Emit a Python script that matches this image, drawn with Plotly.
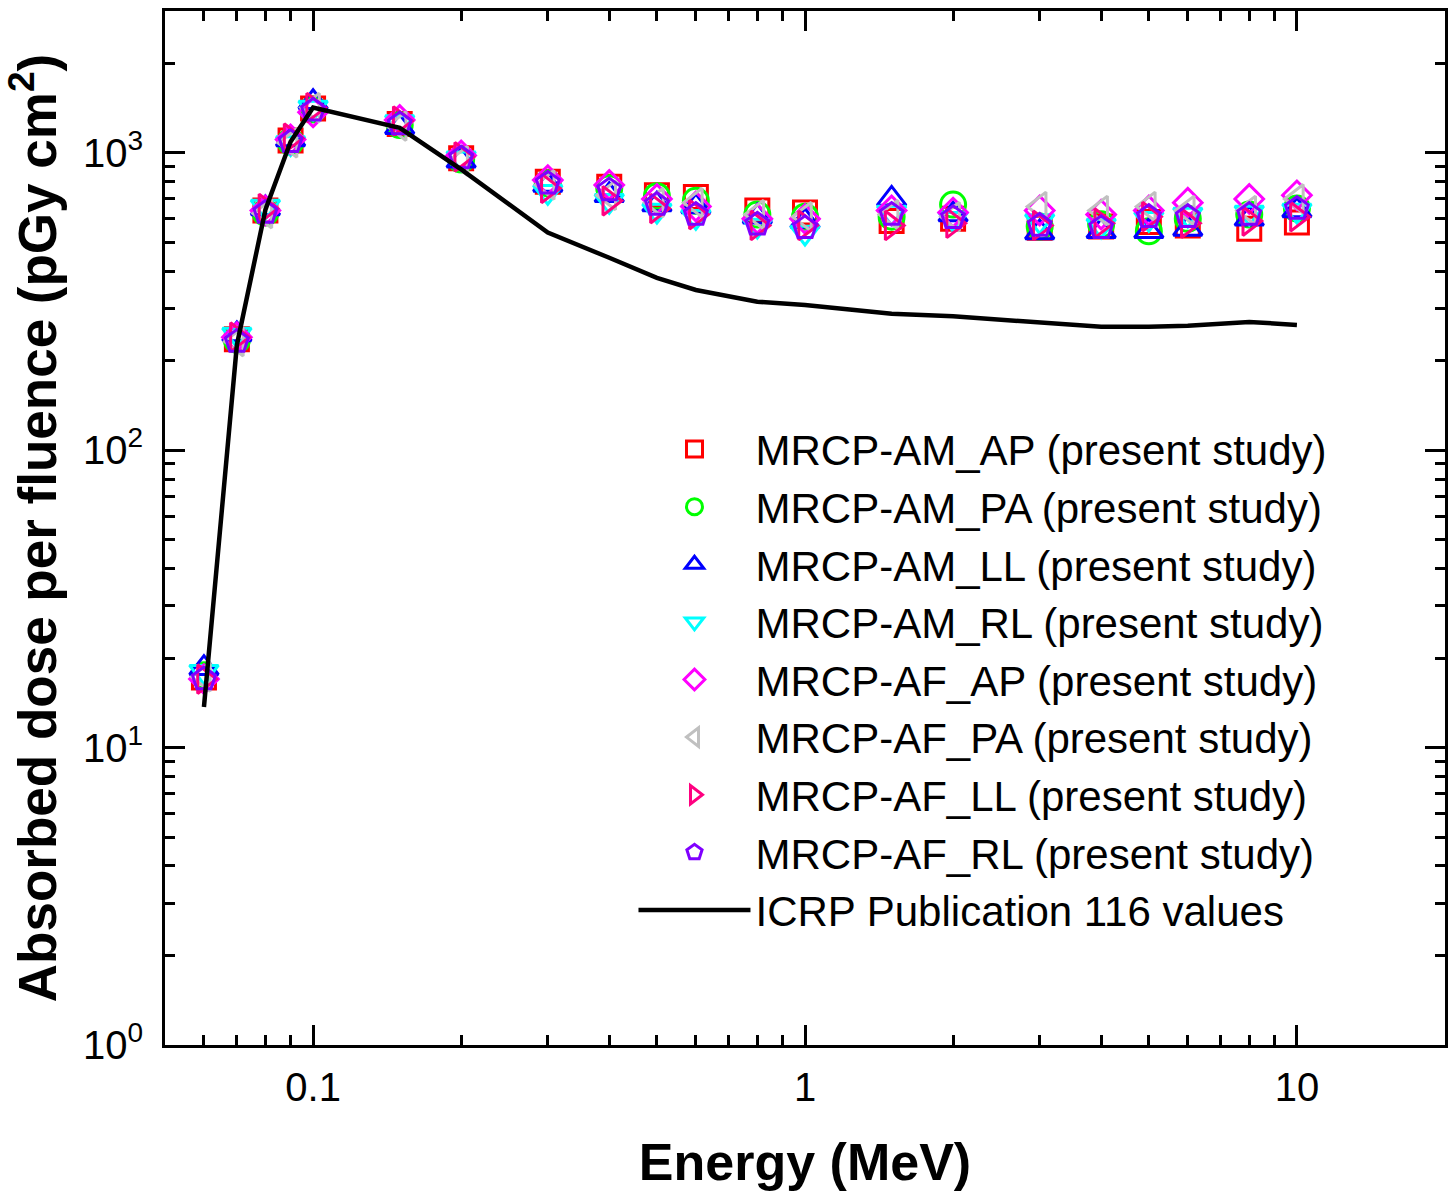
import plotly.graph_objects as go

energy = [0.06, 0.07, 0.08, 0.09, 0.1, 0.15, 0.2, 0.3, 0.4, 0.5, 0.6, 0.8, 1, 1.5, 2, 3, 4, 5, 6, 8, 10]

am_ap = [17.2, 236, 640, 1100, 1410, 1250, 960, 800, 770, 720, 710, 640, 630, 590, 600, 560, 565, 585, 570, 556, 583]
am_pa = [17.5, 235, 630, 1090, 1400, 1240, 950, 790, 760, 715, 690, 620, 610, 610, 670, 565, 575, 545, 600, 620, 650]
am_ll = [18.5, 245, 650, 1110, 1480, 1220, 940, 780, 720, 670, 660, 610, 590, 700, 620, 540, 545, 545, 555, 600, 640]
am_rl = [18.0, 245, 660, 1080, 1420, 1270, 960, 740, 690, 640, 610, 570, 540, 630, 600, 590, 570, 600, 620, 630, 640]
af_ap = [17.0, 240, 640, 1110, 1370, 1290, 980, 810, 780, 700, 660, 600, 600, 640, 630, 640, 620, 640, 680, 700, 720]
af_pa = [17.3, 232, 625, 1080, 1420, 1230, 940, 780, 720, 680, 680, 620, 610, 620, 610, 660, 640, 660, 640, 640, 700]
af_ll = [17.0, 240, 650, 1120, 1420, 1280, 970, 760, 690, 650, 620, 570, 570, 570, 580, 570, 580, 610, 580, 590, 610]
af_rl = [17.0, 232, 630, 1090, 1390, 1250, 960, 790, 750, 670, 620, 575, 560, 620, 605, 570, 560, 610, 610, 620, 650]
icrp = [13.7, 226, 644, 1090, 1420, 1214, 880, 540, 444, 380, 346, 316, 308, 288, 282, 268, 260, 260, 262, 270, 264]

series_names = [
    "MRCP-AM_AP (present study)",
    "MRCP-AM_PA (present study)",
    "MRCP-AM_LL (present study)",
    "MRCP-AM_RL (present study)",
    "MRCP-AF_AP (present study)",
    "MRCP-AF_PA (present study)",
    "MRCP-AF_LL (present study)",
    "MRCP-AF_RL (present study)",
]
icrp_name = "ICRP Publication 116 values"

x_tickvals = [0.1, 1, 10]
x_ticktext = ["0.1", "1", "10"]
y_tickvals = [1, 10, 100, 1000]
y_ticktext = ["10<sup>0</sup>", "10<sup>1</sup>", "10<sup>2</sup>", "10<sup>3</sup>"]

series_values = [am_ap, am_pa, am_ll, am_rl, af_ap, af_pa, af_ll, af_rl]
symbols = ["square-open", "circle-open", "triangle-up-open", "triangle-down-open",
           "diamond-open", "triangle-left-open", "triangle-right-open", "pentagon-open"]
colors = ["#FF0000", "#00FF00", "#0000FF", "#00FFFF", "#FF00FF", "#C0C0C0", "#FF0080", "#8000FF"]
sizes = [23, 25, 25, 25, 22, 25, 25, 24]

FONT = "Liberation Sans, Arial, sans-serif"

fig = go.Figure()
for name, vals, sym, col, sz in zip(series_names, series_values, symbols, colors, sizes):
    fig.add_trace(go.Scatter(
        x=energy, y=vals, mode="markers", name=name,
        marker=dict(symbol=sym, size=sz, color=col, line=dict(color=col, width=3)),
    ))
fig.add_trace(go.Scatter(
    x=energy, y=icrp, mode="lines", name=icrp_name,
    line=dict(color="black", width=4.5),
))

minor_x = [m * 10 ** d for d in range(-2, 2) for m in range(2, 10)]
minor_y = [m * 10 ** d for d in range(0, 4) for m in range(2, 10)]

axis_common = dict(
    type="log",
    showline=True, linecolor="black", linewidth=3, mirror="allticks",
    ticks="inside", ticklen=20, tickwidth=3, tickcolor="black",
    showgrid=False, zeroline=False,
    tickfont=dict(family=FONT, size=40, color="black"),
)

fig.update_xaxes(
    **axis_common,
    range=[-1.30103, 1.30103],
    tickmode="array", tickvals=x_tickvals, ticktext=x_ticktext,
    minor=dict(tickmode="array", tickvals=minor_x, ticks="inside", ticklen=10,
               tickwidth=3, tickcolor="black", showgrid=False),
    title=dict(text="<b>Energy (MeV)</b>", font=dict(family=FONT, size=52, color="black"), standoff=36),
    ticklabelstandoff=5,
)
fig.update_yaxes(
    **axis_common,
    range=[0, 3.4771],
    tickmode="array", tickvals=y_tickvals, ticktext=y_ticktext,
    minor=dict(tickmode="array", tickvals=minor_y, ticks="inside", ticklen=10,
               tickwidth=3, tickcolor="black", showgrid=False),
    title=dict(text="<b>Absorbed dose per fluence (pGy cm<sup>2</sup>)</b>",
               font=dict(family=FONT, size=53, color="black"), standoff=16),
    ticklabelstandoff=11,
)

fig.update_layout(
    width=1450, height=1204,
    margin=dict(l=165, r=2, t=11, b=159),
    plot_bgcolor="white", paper_bgcolor="white",
    font=dict(family=FONT, color="black"),
    legend=dict(
        x=0.366, y=0.609, xanchor="left", yanchor="top",
        bgcolor="rgba(0,0,0,0)", borderwidth=0,
        font=dict(family=FONT, size=42, color="black"),
        itemwidth=112, tracegroupgap=0,
    ),
    showlegend=True,
)

fig.write_html("out.html")
